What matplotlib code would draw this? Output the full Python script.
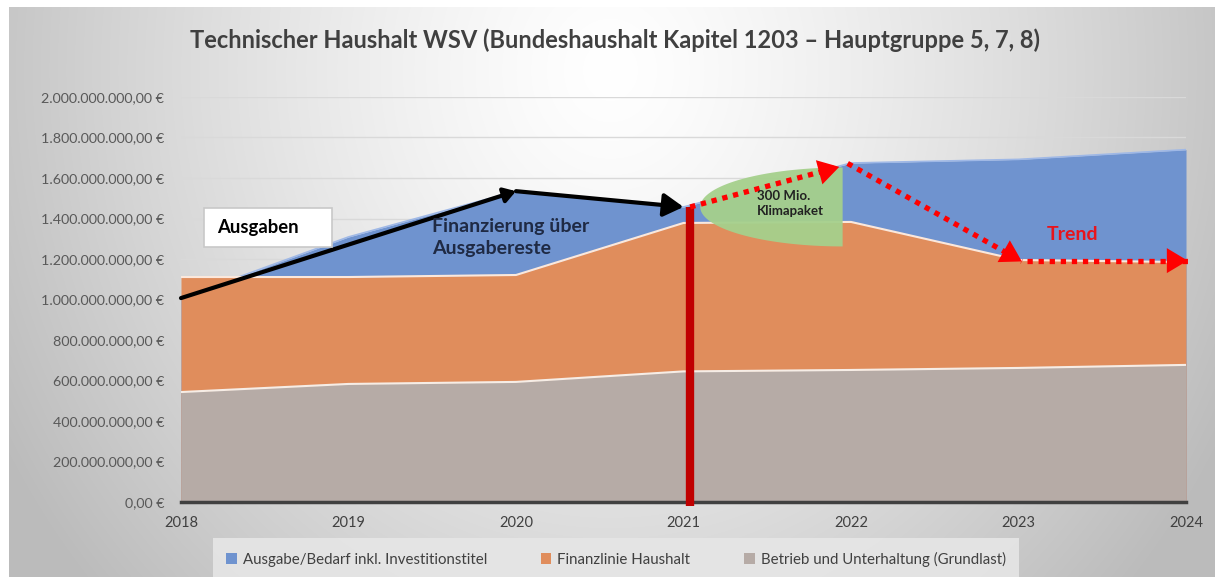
import numpy as np
import matplotlib
matplotlib.use("Agg")
import matplotlib.pyplot as plt
from matplotlib.patches import Rectangle, Polygon

plt.rcParams['font.family'] = ['Lato', 'DejaVu Sans']

# ---------------- data ----------------
years = [2018, 2019, 2020, 2021, 2022, 2023, 2024]
ausgabe_bedarf = [1.007e9, 1.309e9, 1.535e9, 1.457e9, 1.674e9, 1.692e9, 1.740e9]
finanzlinie = [1.111e9, 1.111e9, 1.121e9, 1.378e9, 1.383e9, 1.195e9, 1.185e9]
grundlast = [0.543e9, 0.583e9, 0.593e9, 0.645e9, 0.652e9, 0.662e9, 0.677e9]
series_names = ["Ausgabe/Bedarf inkl. Investitionstitel", "Finanzlinie Haushalt",
                "Betrieb und Unterhaltung (Grundlast)"]
yticks = [0, 0.2e9, 0.4e9, 0.6e9, 0.8e9, 1.0e9, 1.2e9, 1.4e9, 1.6e9, 1.8e9, 2.0e9]
title = "Technischer Haushalt WSV (Bundeshaushalt Kapitel 1203 – Hauptgruppe 5, 7, 8)"

# annotation anchor points (years, €)
ausgaben_arrow = [(2018, 1.007e9), (2020, 1.535e9), (2021, 1.457e9)]
trend_arrows = [((2021.04, 1.457e9), (2021.93, 1.655e9)),
                ((2021.98, 1.672e9), (2023.02, 1.188e9)),
                ((2023.05, 1.192e9), (2024.01, 1.192e9))]

W, H = 1215, 577
fig = plt.figure(figsize=(W / 100, H / 100), dpi=100)

# ---------------- background gradient ----------------
yy, xx = np.mgrid[0:H, 0:W]
d = np.sqrt(((xx - 610) / 700.0) ** 2 + ((yy - 70) / 780.0) ** 2)
val = 255 - 68 * np.clip(d, 0, 1) ** 1.3
img = np.dstack([val, val, val]) / 255.0
img[:7, :, :] = 1.0
img[:, :9, :] = 1.0
bg = fig.add_axes([0, 0, 1, 1], zorder=-10)
bg.imshow(img, extent=[0, 1, 0, 1], aspect='auto', interpolation='bilinear')
bg.axis('off')

def fx(px):
    return px / W

def fy(py):
    return 1 - py / H

ax = fig.add_axes([fx(181), fy(502), fx(1186) - fx(181), fy(97) - fy(502)])
ax.set_facecolor('none')

c_blue = '#6f93cf'
c_orange = '#e08d5c'
c_gray = '#b6aba6'

ax.fill_between(years, 0, ausgabe_bedarf, color=c_blue, lw=0, zorder=1, label=series_names[0])
ax.plot(years, ausgabe_bedarf, color='#9fb8e6', lw=1.2, zorder=1.1)
ax.fill_between(years, 0, finanzlinie, color=c_orange, lw=0, zorder=2, label=series_names[1])
ax.plot(years, finanzlinie, color='#fbe8dc', lw=1.5, zorder=2.1)
ax.fill_between(years, 0, grundlast, color=c_gray, lw=0, zorder=3, label=series_names[2])
ax.plot(years, grundlast, color='#f6ede6', lw=1.5, zorder=3.1)

ax.set_xlim(2018, 2024)
ax.set_ylim(0, 2.0e9)
ax.set_yticks(yticks)

def eur(v):
    s = f"{v:,.2f}".replace(",", "X").replace(".", ",").replace("X", ".")
    return s + " €"

ax.set_yticklabels([eur(v) for v in yticks], color='#595959', fontsize=10.3)
ax.set_xticks(years)
ax.set_xticklabels([str(y) for y in years], color='#404040', fontsize=10.5)
ax.tick_params(axis='y', length=0, pad=12)
ax.tick_params(axis='x', length=0, pad=10)
ax.grid(axis='y', color='#d9d9d9', lw=1, zorder=0.5)
ax.set_axisbelow(True)
for s in ['top', 'right', 'left']:
    ax.spines[s].set_visible(False)
ax.spines['bottom'].set_color('#404040')
ax.spines['bottom'].set_linewidth(2.5)
ax.spines['bottom'].set_zorder(4)

# green "Klimapaket" half ellipse
cx, cy = 2021.95, 1.457e9
rx, ry = 0.85, 0.195e9
th = np.linspace(np.pi / 2, 3 * np.pi / 2, 80)
pts = np.column_stack([cx + rx * np.cos(th), cy + ry * np.sin(th)])
ax.add_patch(Polygon(pts, closed=True, facecolor='#a5d08c', edgecolor='none', alpha=0.95, zorder=4))

# red vertical bar
ax.plot([2021.04, 2021.04], [-0.02e9, 1.457e9], color='#c00000', lw=6,
        solid_capstyle='butt', zorder=5, clip_on=False)

# black arrows
heads = ['-|>,head_length=0.35,head_width=0.22', '-|>,head_length=0.6,head_width=0.35']
for (p0, p1), hs in zip(zip(ausgaben_arrow[:-1], ausgaben_arrow[1:]), heads):
    ax.annotate('', xy=p1, xytext=p0,
                arrowprops=dict(arrowstyle=hs, lw=3, color='black', shrinkA=0, shrinkB=0,
                                mutation_scale=20), zorder=6)

# red dotted trend arrows
for (p0, p1) in trend_arrows:
    ax.plot([p0[0], p1[0]], [p0[1], p1[1]], color='#ff0000', lw=3.8,
            linestyle=(0, (1, 1.1)), solid_capstyle='butt', zorder=6, clip_on=False)
    ax.annotate('', xy=p1, xytext=p0,
                arrowprops=dict(arrowstyle='-|>,head_length=0.75,head_width=0.45',
                                lw=0, fc='#ff0000', ec='#ff0000', shrinkA=0, shrinkB=0,
                                mutation_scale=20), zorder=6, annotation_clip=False)

# texts
ax.add_patch(Rectangle((fx(204), fy(247)), fx(332) - fx(204), fy(208) - fy(247),
                       transform=fig.transFigure, facecolor='white', edgecolor='#c8c8c8',
                       lw=1.2, zorder=7))
fig.text(fx(217), fy(228), "Ausgaben", fontsize=13.3, fontweight='bold', color='black',
         va='center', ha='left', zorder=8)
ax.text(2019.5, 1.306e9, "Finanzierung über\nAusgabereste", fontsize=14, fontweight='bold',
        color='#1f2a44', va='center', ha='left', linespacing=1.4, zorder=7)
ax.text(2021.44, 1.472e9, "300 Mio.\nKlimapaket", fontsize=9.5, fontweight='bold',
        color='#222222', va='center', ha='left', linespacing=1.3, zorder=7)
ax.text(2023.17, 1.319e9, "Trend", fontsize=14, fontweight='bold', color='#e8141c',
        va='center', ha='left', zorder=7)

fig.text(fx(615), fy(40), title, fontsize=17, fontweight='bold', color='#404040',
         ha='center', va='center')

leg = fig.legend(loc='center', bbox_to_anchor=(fx(616), fy(559)), ncol=3, frameon=True,
                 fontsize=10.8, handlelength=0.7, handleheight=0.7, handletextpad=0.4,
                 columnspacing=3.6, borderpad=0.6)
leg.get_frame().set_facecolor('#e6e6e6')
leg.get_frame().set_edgecolor('none')
leg.get_frame().set_boxstyle('square')
leg.get_frame().set_alpha(0.9)
for t in leg.get_texts():
    t.set_color('#404040')

fig.savefig('out.png', dpi=100)
